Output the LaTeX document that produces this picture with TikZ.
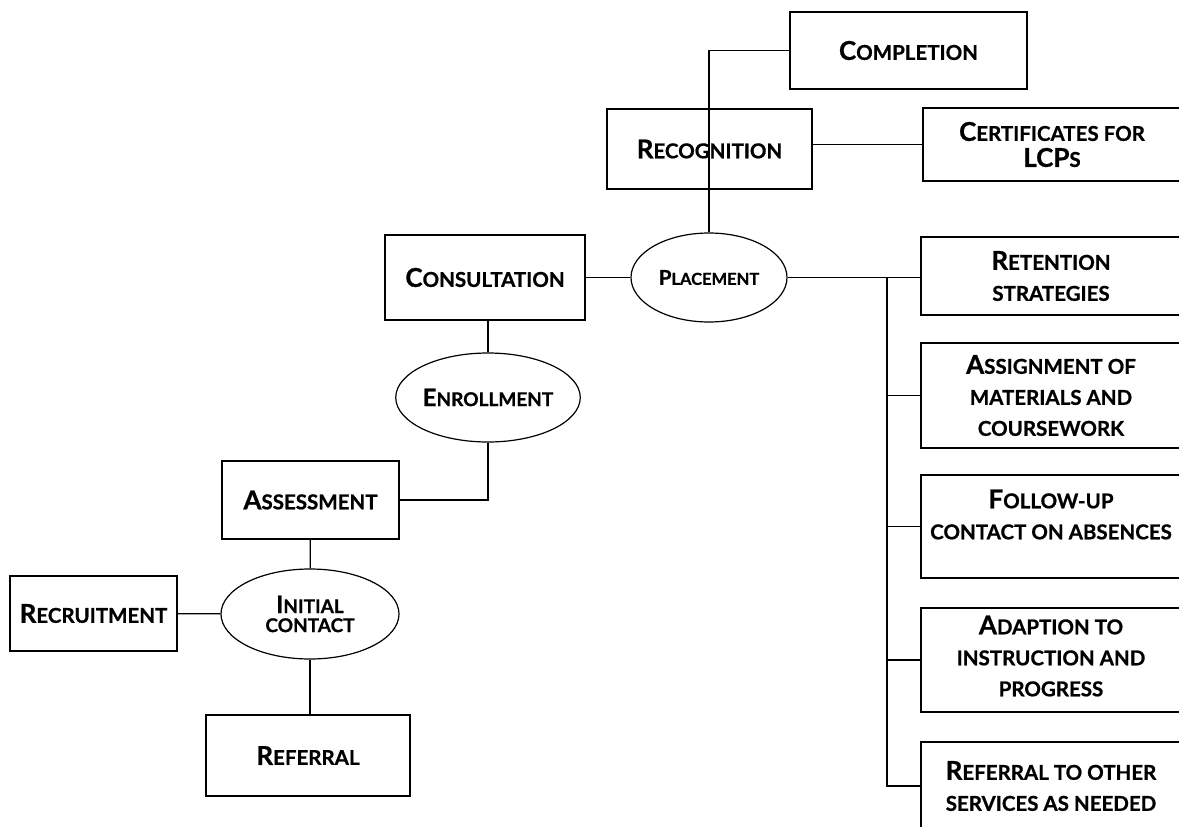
\documentclass[tikz,border=0pt]{standalone}
\usepackage{fontspec}
\setmainfont{Lato}[BoldFeatures={FakeBold=0.8}]
\usetikzlibrary{shapes.geometric}
\newcommand\capbig{\fontsize{26}{30}\selectfont}
\newcommand\capsmall{\fontsize{20.5}{31}\selectfont}
\newcommand\ovbig{\fontsize{24}{22}\selectfont}
\newcommand\ovsmall{\fontsize{19}{19}\selectfont}

\begin{document}
\begin{tikzpicture}[
          x=1pt, y=-1pt,
          box/.style={draw, rectangle, line width=1.8pt, inner sep=0pt, align=center, font=\bfseries\capsmall},
          oval/.style={draw, ellipse, line width=1.2pt, inner sep=0pt, align=center, font=\bfseries\ovsmall},
          boxtext/.style={inner sep=0pt, align=center, font=\bfseries\capsmall},
          link/.style={line width=1.3pt}
        ]
        \useasboundingbox (0,0) rectangle (1179,827);

        % Nodes, left branch
        \node[box, minimum width=167pt, minimum height=75pt] (Recruit) at (93.5,613.5) {{\capbig R}ECRUITMENT};
        \node[oval, minimum width=178pt, minimum height=90pt] (Initial) at (310,614) {{\ovbig I}NITIAL\\CONTACT};
        \node[box, minimum width=204pt, minimum height=81pt] (Referral) at (308,755.5) {{\capbig R}EFERRAL};
        \node[box, minimum width=177pt, minimum height=78pt] (Assess) at (310.5,500) {{\capbig A}SSESSMENT};
        \node[oval, minimum width=180pt, minimum height=89pt] (Enroll) at (488,397.5) {{\ovbig E}NROLLMENT};
        \node[box, minimum width=200pt, minimum height=85pt] (Consult) at (485,277.5) {{\capbig C}ONSULTATION};
        \node[oval, minimum width=156pt, minimum height=89pt, font=\bfseries\fontsize{16.5}{18}\selectfont] (Place) at (709,277.5) {{\fontsize{20.5}{18}\selectfont P}LACEMENT};

        % Nodes, top branch
        \node[box, minimum width=205pt, minimum height=80pt] (Recog) at (709.5,149) {{\capbig R}ECOGNITION};
        \node[box, minimum width=237pt, minimum height=77pt] (Complete) at (908.5,50.5) {{\capbig C}OMPLETION};
        \node[box, minimum width=258pt, minimum height=73pt, font=\bfseries\fontsize{20.5}{26}\selectfont] (Certif) at (1052,144.5) {{\capbig C}ERTIFICATES FOR\\{\capbig LCP}S};

        % Nodes, right column
        \node[box, minimum width=260pt, minimum height=78pt] (Retain) at (1051,276) {{\capbig R}ETENTION\\STRATEGIES};
        \node[box, minimum width=260pt, minimum height=105pt] (Assign) at (1051,395.5) {{\capbig A}SSIGNMENT OF\\MATERIALS AND\\COURSEWORK};
        \node[box, minimum width=260pt, minimum height=103pt] (Follow) at (1051,526.5) {};
        \node[boxtext] (FollowText) at (1051,514.5) {{\capbig F}OLLOW-UP\\CONTACT ON ABSENCES};
        \node[box, minimum width=260pt, minimum height=104pt] (Adapt) at (1051,660) {};
        \node[boxtext] (AdaptText) at (1051,656) {{\capbig A}DAPTION TO\\INSTRUCTION AND\\PROGRESS};
        \node[box, minimum width=260pt, minimum height=88pt] (Other) at (1051,786) {{\capbig R}EFERRAL TO OTHER\\SERVICES AS NEEDED};
        \coordinate (BarTop) at (887,278);

        % Edges, left branch
        \draw[link] (Recruit) -- (Initial);
        \draw[link] (Initial.south) -- (Initial.south |- Referral.north);
        \draw[link] (Assess) -- (Initial);
        \draw[link] (Enroll.south) |- (Assess.east);
        \draw[link] (Enroll.north |- Consult.south) -- (Enroll.north);
        \draw[link] (Consult) -- (Place);

        % Edges, top branch
        \draw[link] (Complete.west) -| (Place.north);
        \draw[link] (Recog.east |- Certif.west) -- (Certif.west);

        % Edges, right column
        \draw[link] (Place.east) -- (Place.east -| Retain.west);
        \draw[link] (BarTop) |- (Other.west);
        \draw[link] (Assign.west) -- (Assign.west -| BarTop);
        \draw[link] (Follow.west) -- (Follow.west -| BarTop);
        \draw[link] (Adapt.west) -- (Adapt.west -| BarTop);

      \end{tikzpicture}
\end{document}
